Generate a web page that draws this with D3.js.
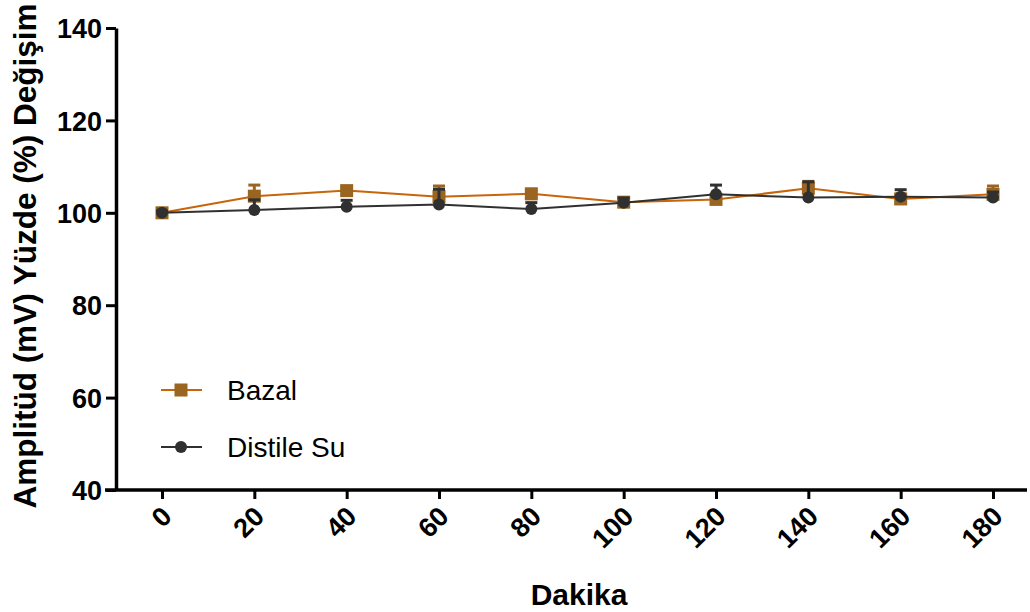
<!DOCTYPE html>
<html>
<head>
<meta charset="utf-8">
<script src="https://cdn.jsdelivr.net/npm/d3@7"></script>
<style>
  body { margin: 0; background: #fff; }
  text { font-family: "Liberation Sans", Arial, sans-serif; }
</style>
</head>
<body>
<script>
const minutes = [0, 20, 40, 60, 80, 100, 120, 140, 160, 180]; // Dakika
const bazal = [100, 103.6, 104.8, 103.5, 104.1, 102.3, 102.9, 105.3, 103.0, 104.0];
const bazalErr = [0, 2.4, 0.6, 2.3, 1.0, 0.5, 0.8, 1.5, 1.0, 1.8];
const distile = [100, 100.6, 101.3, 101.8, 100.8, 102.2, 104.0, 103.3, 103.5, 103.3];
const distileErr = [0.4, 2.2, 1.4, 3.3, 1.4, 1.0, 2.0, 3.4, 1.5, 1.2];
const yTicks = [40, 60, 80, 100, 120, 140];

const svgWidth = 1030;
const svgHeight = 612;

const x = d3.scaleLinear().domain([0, 180]).range([162, 993]);
const y = d3.scaleLinear().domain([40, 140]).range([490, 28]);

const svg = d3.select("body").append("svg")
  .attr("width", svgWidth)
  .attr("height", svgHeight);

// y axis
const yAxis = d3.axisLeft(y).tickValues(yTicks).tickSize(10).tickPadding(4).tickSizeOuter(0);
const gy = svg.append("g").attr("transform", "translate(116,0)").call(yAxis);
gy.select(".domain").attr("stroke-width", 3.5);
gy.selectAll(".tick line").attr("stroke-width", 3);
gy.selectAll(".tick text")
  .style("font-size", "27px").style("font-weight", "bold").attr("fill", "#000")
  .attr("dy", "0.36em");

// x axis
const xAxis = d3.axisBottom(x).tickValues(minutes).tickSize(9).tickSizeOuter(0);
const gx = svg.append("g").attr("transform", "translate(0,490)").call(xAxis);
gx.select(".domain").attr("d", "M105,0H1027").attr("stroke-width", 3.5);
gx.selectAll(".tick line").attr("stroke-width", 3);
gx.selectAll(".tick text")
  .style("font-size", "27px").style("font-weight", "bold").attr("fill", "#000")
  .attr("text-anchor", "end")
  .attr("y", 0).attr("dy", 0)
  .attr("transform", "translate(11,28) rotate(-45)");

// titles
svg.append("text")
  .attr("transform", "translate(36,256) rotate(-90)")
  .attr("text-anchor", "middle")
  .style("font-size", "31.5px").style("font-weight", "bold")
  .text("Amplitüd (mV) Yüzde (%) Değişim");

svg.append("text")
  .attr("x", 579).attr("y", 605)
  .attr("text-anchor", "middle")
  .style("font-size", "30px").style("font-weight", "bold")
  .text("Dakika");

const line = d3.line().x((d, i) => x(minutes[i])).y(d => y(d));

function errBars(vals, errs, col) {
  const g = svg.append("g");
  vals.forEach((v, i) => {
    if (errs[i] <= 0) return;
    const cx = x(minutes[i]);
    g.append("line").attr("x1", cx).attr("x2", cx)
      .attr("y1", y(v)).attr("y2", y(v + errs[i]))
      .attr("stroke", col).attr("stroke-width", 3);
    g.append("line").attr("x1", cx - 6).attr("x2", cx + 6)
      .attr("y1", y(v + errs[i])).attr("y2", y(v + errs[i]))
      .attr("stroke", col).attr("stroke-width", 3);
  });
}

// Bazal
errBars(bazal, bazalErr, "#9a6520");
svg.append("path").datum(bazal).attr("d", line)
  .attr("fill", "none").attr("stroke", "#c8640a").attr("stroke-width", 2);
svg.append("g").selectAll("rect").data(bazal).enter().append("rect")
  .attr("x", (d, i) => x(minutes[i]) - 6.5)
  .attr("y", d => y(d) - 6.5)
  .attr("width", 13).attr("height", 13)
  .attr("fill", "#9a6520");

// Distile Su
errBars(distile, distileErr, "#303030");
svg.append("path").datum(distile).attr("d", line)
  .attr("fill", "none").attr("stroke", "#303030").attr("stroke-width", 2);
svg.append("g").selectAll("circle").data(distile).enter().append("circle")
  .attr("cx", (d, i) => x(minutes[i]))
  .attr("cy", d => y(d))
  .attr("r", 6)
  .attr("fill", "#303030");

// legend
const legend = svg.append("g");
legend.append("line").attr("x1", 161).attr("x2", 202).attr("y1", 390).attr("y2", 390)
  .attr("stroke", "#c8640a").attr("stroke-width", 2);
legend.append("rect").attr("x", 174.5).attr("y", 383.5).attr("width", 13).attr("height", 13)
  .attr("fill", "#9a6520");
legend.append("text").attr("x", 227).attr("y", 400)
  .style("font-size", "28px").text("Bazal");

legend.append("line").attr("x1", 161).attr("x2", 202).attr("y1", 447).attr("y2", 447)
  .attr("stroke", "#303030").attr("stroke-width", 2);
legend.append("circle").attr("cx", 181).attr("cy", 447).attr("r", 6)
  .attr("fill", "#303030");
legend.append("text").attr("x", 227).attr("y", 457)
  .style("font-size", "28px").text("Distile Su");
</script>
</body>
</html>
